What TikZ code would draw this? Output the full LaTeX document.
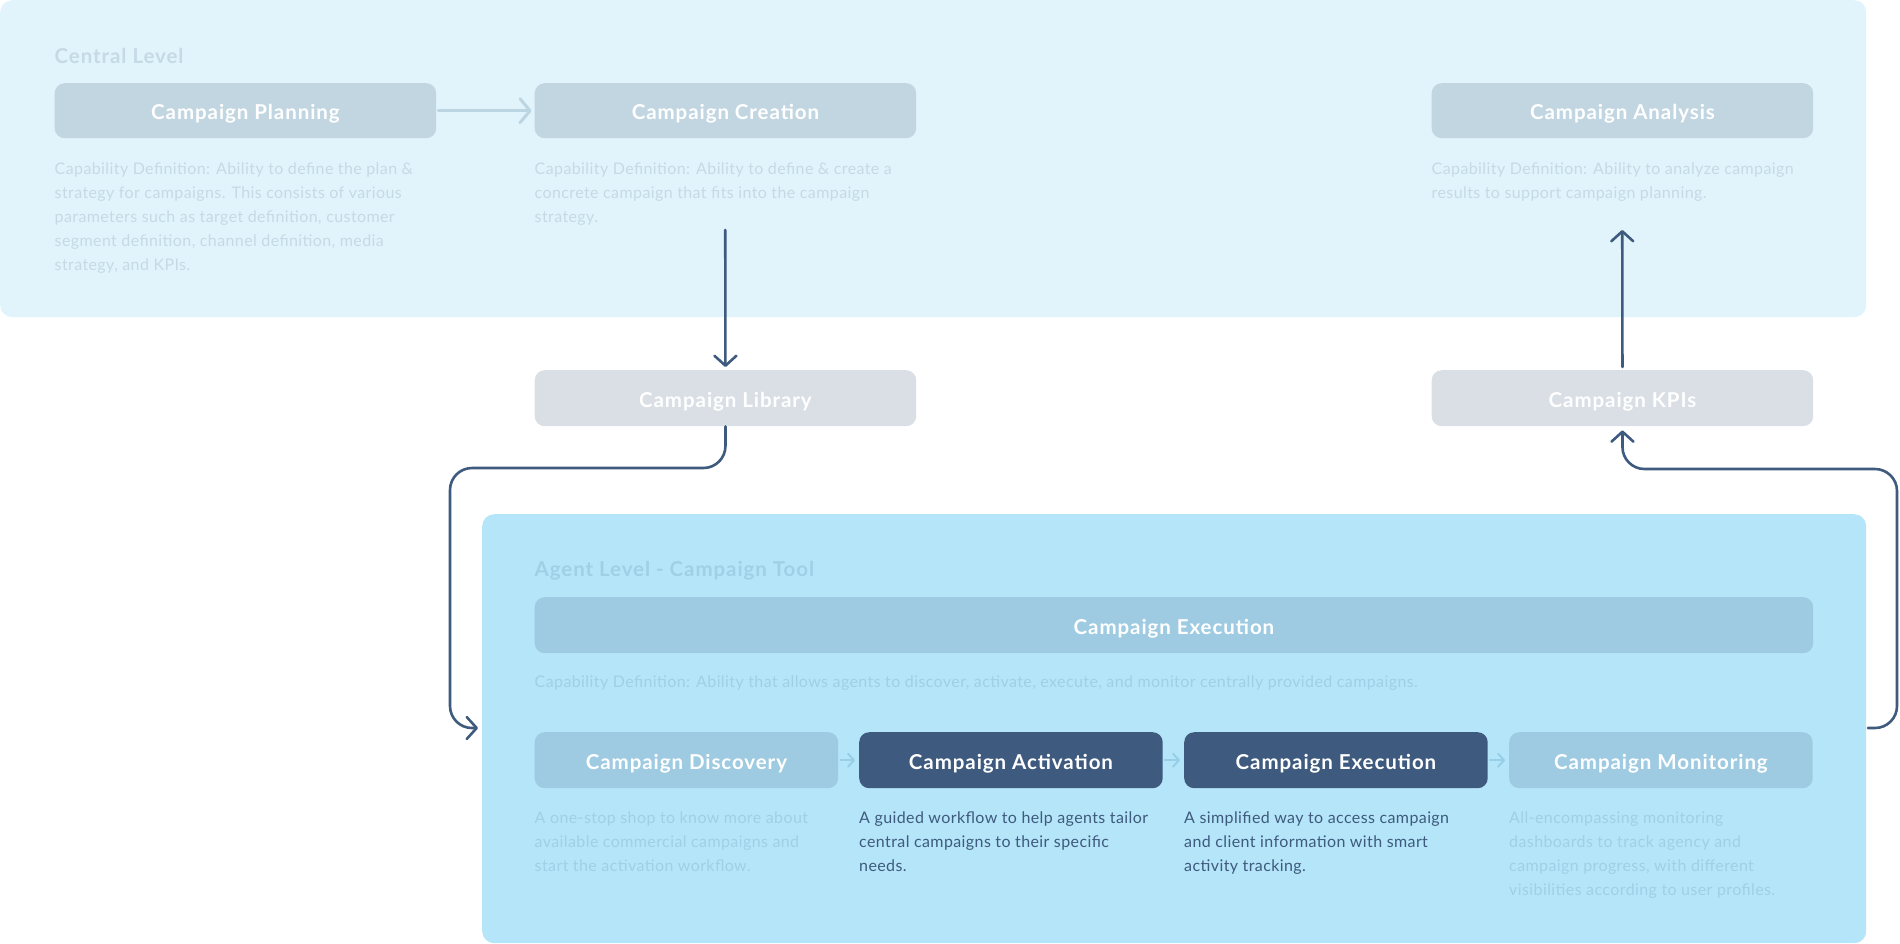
\documentclass[tikz,border=0pt]{standalone}
\usepackage{fontspec}
\setmainfont{Lato}
\newfontfamily\labelfont[LetterSpace=4.5]{Lato}
\newfontfamily\descfont[LetterSpace=2.5]{Lato}
\usetikzlibrary{arrows.meta}
\definecolor{toppanel}{HTML}{E1F4FC}
\definecolor{cbox}{HTML}{C2D6E2}
\definecolor{gbox}{HTML}{D9DFE5}
\definecolor{agentpanel}{HTML}{B5E5F8}
\definecolor{abox}{HTML}{9ECBE1}
\definecolor{darkblue}{HTML}{3E5A7E}
\definecolor{paletop}{HTML}{C6DAE5}
\definecolor{paleagent}{HTML}{9ED0E6}
\definecolor{lightarrow}{HTML}{BBD5E2}
\definecolor{smallarrow}{HTML}{99CFE6}
\tikzset{
  panelbox/.style={rounded corners=12pt, inner sep=0pt, anchor=north west},
  capbox/.style={rounded corners=10pt, inner sep=0pt, anchor=north west, minimum height=55pt,
    text=white, text height=17.6pt, text depth=0pt,
    font=\labelfont\fontsize{20.5}{22}\selectfont\bfseries},
  desc/.style={anchor=north west, inner sep=0pt, align=left,
    font=\descfont\fontsize{16}{24}\selectfont},
  levellabel/.style={anchor=west, inner sep=0pt, font=\labelfont\fontsize{20.5}{22}\selectfont\bfseries},
  conn/.style={draw=darkblue, line width=2.6pt, line cap=round, line join=round,
    -{Straight Barb[length=10pt,width=22pt,line width=2.6pt,round]}},
  lightconn/.style={draw=lightarrow, line width=3pt, line cap=round,
    -{Straight Barb[length=10pt,width=24pt,line width=3pt,round]}},
  smallconn/.style={draw=smallarrow, line width=2pt, line cap=round,
    -{Straight Barb[length=6pt,width=13pt,line width=2pt,round]}}
}
\begin{document}
\begin{tikzpicture}[x=1pt,y=-1pt]
\useasboundingbox (0,0) rectangle (1900,943);
% panels
\node[panelbox, fill=toppanel, minimum width=1866pt, minimum height=317pt] (central) at (0,0) {};
\node[panelbox, fill=agentpanel, minimum width=1384pt, minimum height=429pt] (agent) at (482,514) {};
% central level
\node[levellabel, text=paletop] (clabel) at (54.5,56) {Central Level};
\node[capbox, fill=cbox, minimum width=381.5pt] (plan) at (54.5,83) {Campaign Planning};
\node[capbox, fill=cbox, minimum width=381.5pt] (create) at (534.5,83) {Campaign Creation};
\node[capbox, fill=cbox, minimum width=381.5pt] (analysis) at (1431.5,83) {Campaign Analysis};
\node[desc, text=paletop] (plandesc) at (54.5,162.5) {Capability Definition: Ability to define the plan \&\\strategy for campaigns. This consists of various\\parameters such as target definition, customer\\segment definition, channel definition, media\\strategy, and KPIs.};
\node[desc, text=paletop] (createdesc) at (534.5,162.5) {Capability Definition: Ability to define \& create a\\concrete campaign that fits into the campaign\\strategy.};
\node[desc, text=paletop] (analysisdesc) at (1431.5,162.5) {Capability Definition: Ability to analyze campaign\\results to support campaign planning.};
% middle
\node[capbox, fill=gbox, minimum width=381.5pt, minimum height=56pt] (lib) at (534.5,370) {Campaign Library};
\node[capbox, fill=gbox, minimum width=381.5pt, minimum height=56pt] (kpis) at (1431.5,370) {Campaign KPIs};
% agent level
\node[levellabel, text=paleagent] (alabel) at (534.5,571) {Agent Level - Campaign Tool};
\node[capbox, fill=abox, minimum width=1278.5pt, minimum height=56pt] (wideexec) at (534.5,597) {Campaign Execution};
\node[desc, text=paleagent] (agentdesc) at (534.5,675.5) {Capability Definition: Ability that allows agents to discover, activate, execute, and monitor centrally provided campaigns.};
\node[capbox, fill=abox, minimum width=303.5pt, minimum height=56pt] (disc) at (534.5,732) {Campaign Discovery};
\node[capbox, fill=darkblue, minimum width=303.5pt, minimum height=56pt] (act) at (859,732) {Campaign Activation};
\node[capbox, fill=darkblue, minimum width=303.5pt, minimum height=56pt] (exe) at (1184,732) {Campaign Execution};
\node[capbox, fill=abox, minimum width=303.5pt, minimum height=56pt] (mon) at (1509,732) {Campaign Monitoring};
\node[desc, text=paleagent] (discdesc) at (534.5,811.5) {A one-stop shop to know more about\\available commercial campaigns and\\start the activation workflow.};
\node[desc, text=darkblue] (actdesc) at (859,811.5) {A guided workflow to help agents tailor\\central campaigns to their specific\\needs.};
\node[desc, text=darkblue] (exedesc) at (1184,811.5) {A simplified way to access campaign\\and client information with smart\\activity tracking.};
\node[desc, text=paleagent] (mondesc) at (1509,811.5) {All-encompassing monitoring\\dashboards to track agency and\\campaign progress, with different\\visibilities according to user profiles.};
% connectors
\coordinate (cstart) at (725.25,230);
\coordinate (atip) at (1622.25,230);
\coordinate (lturn) at (450,468);
\coordinate (lend) at (478,728);
\coordinate (rstart) at (1868,728);
\coordinate (rturn) at (1897,469);
\draw[lightconn, shorten <=2pt, shorten >=3pt] (plan.east) -- (create.west);
\draw[conn, shorten >=3pt] (cstart) -- (lib.north);
\draw[conn, shorten <=3pt] (kpis.north) -- (atip);
\draw[conn, rounded corners=22pt] (lib.south) |- (lturn) |- (lend);
\draw[conn, rounded corners=22pt, shorten >=4pt] (rstart) -| (rturn) -| (kpis.south);
\draw[smallconn, shorten <=2pt, shorten >=4pt] (disc.east) -- (act.west);
\draw[smallconn, shorten <=2pt, shorten >=4pt] (act.east) -- (exe.west);
\draw[smallconn, shorten <=2pt, shorten >=4pt] (exe.east) -- (mon.west);
\end{tikzpicture}
\end{document}
